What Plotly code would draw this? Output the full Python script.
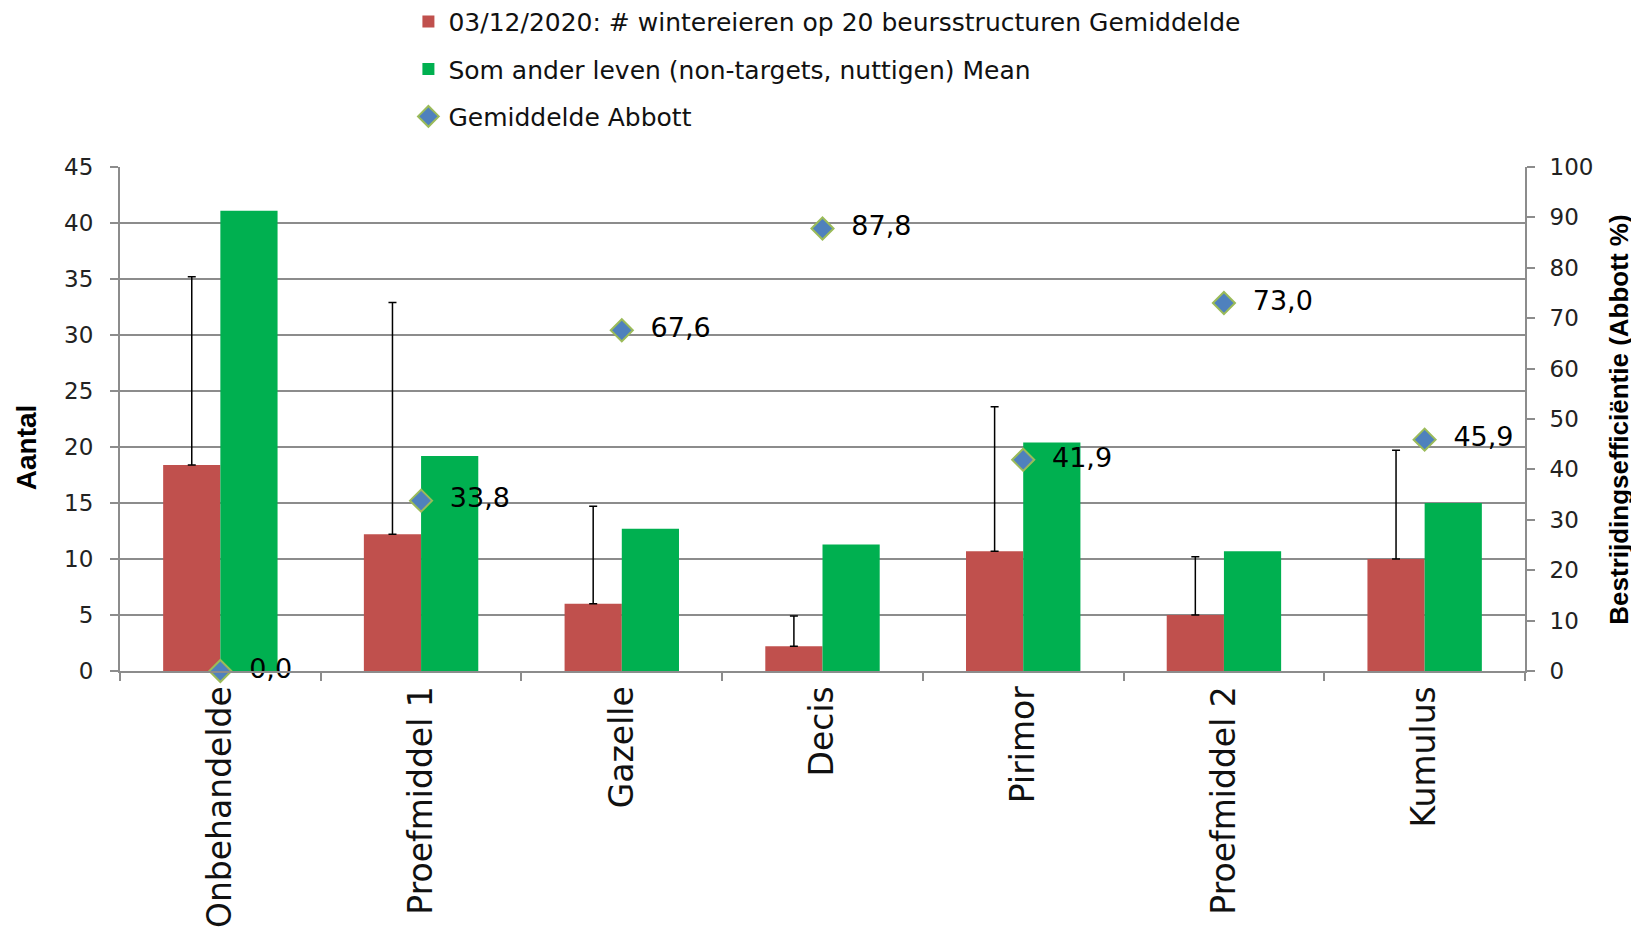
import plotly.graph_objects as go

categories = ["Onbehandelde", "Proefmiddel 1", "Gazelle", "Decis", "Pirimor", "Proefmiddel 2", "Kumulus"]
wintereieren = [18.4, 12.2, 6.0, 2.2, 10.7, 5.0, 10.0]
wintereieren_err = [16.8, 20.7, 8.7, 2.7, 12.9, 5.2, 9.7]
ander_leven = [41.1, 19.2, 12.7, 11.3, 20.4, 10.7, 15.0]
abbott = [0.0, 33.8, 67.6, 87.8, 41.9, 73.0, 45.9]
abbott_labels = ["0,0", "33,8", "67,6", "87,8", "41,9", "73,0", "45,9"]

FONT = "DejaVu Sans"
GRID = "#8c8c8c"

fig = go.Figure()
fig.add_trace(go.Bar(
    x=categories, y=wintereieren, name="03/12/2020: # wintereieren op 20 beursstructuren Gemiddelde",
    marker=dict(color="#C0504D", line=dict(width=0)),
    error_y=dict(type="data", symmetric=False, array=wintereieren_err,
                 arrayminus=[0] * len(wintereieren_err), color="black", thickness=1.5, width=4),
    legendgroup="a",
))
fig.add_trace(go.Bar(
    x=categories, y=ander_leven, name="Som ander leven (non-targets, nuttigen) Mean",
    marker=dict(color="#00B050", line=dict(width=0)), legendgroup="b",
))
fig.add_trace(go.Scatter(
    x=categories, y=abbott, name="Gemiddelde Abbott", yaxis="y2",
    mode="markers+text", text=["  " + t for t in abbott_labels], textposition="middle right",
    textfont=dict(family=FONT, size=27, color="black"),
    marker=dict(symbol="diamond", size=17, color="#4F81BD", line=dict(color="#9BBB59", width=2)),
    cliponaxis=False, legendgroup="c",
))

fig.update_layout(
    width=1631, height=925,
    margin=dict(l=112, r=114, t=159, b=262, autoexpand=False),
    paper_bgcolor="white", plot_bgcolor="white",
    barmode="group", bargap=0.43, bargroupgap=0,
    font=dict(family=FONT, size=23, color="#222"),
    showlegend=True,
    legend=dict(
        xref="container", yref="paper", x=0.2455, y=1.334, xanchor="left", yanchor="top",
        orientation="v", tracegroupgap=12, font=dict(family=FONT, size=25, color="#111"),
        bgcolor="rgba(0,0,0,0)",
    ),
    xaxis=dict(
        showline=True, linecolor=GRID, linewidth=2, ticks="outside", tickson="boundaries",
        ticklen=8, tickcolor=GRID, tickwidth=2, tickangle=-90,
        tickfont=dict(family=FONT, size=33, color="#111"), showgrid=False,
    ),
    yaxis=dict(
        range=[0, 45], dtick=5, showline=True, linecolor=GRID, linewidth=2,
        gridcolor=GRID, gridwidth=2, ticks="outside", ticklen=8, tickcolor=GRID, tickwidth=2,
        tickfont=dict(family=FONT, size=23, color="#222"), zeroline=False, ticklabelstandoff=12,
    ),
    yaxis2=dict(
        range=[0, 100], dtick=10, overlaying="y", side="right", showgrid=False,
        showline=True, linecolor=GRID, linewidth=2, ticks="outside", ticklen=8,
        tickcolor=GRID, tickwidth=2, zeroline=False, ticklabelstandoff=10,
        tickfont=dict(family=FONT, size=23, color="#222"),
    ),
    annotations=[
        dict(text="<b>Aantal</b>", xref="paper", yref="paper", x=-0.0669, y=0.444,
             textangle=-90, showarrow=False, xanchor="center", yanchor="middle",
             font=dict(family="Liberation Sans", size=28, color="black")),
        dict(text="<b>Bestrijdingsefficiëntie (Abbott %)</b>", xref="paper", yref="paper",
             x=1.0669, y=0.4986, textangle=-90, showarrow=False, xanchor="center", yanchor="middle",
             font=dict(family="Liberation Sans", size=26, color="black")),
    ],
)

fig.write_html("out.html")
